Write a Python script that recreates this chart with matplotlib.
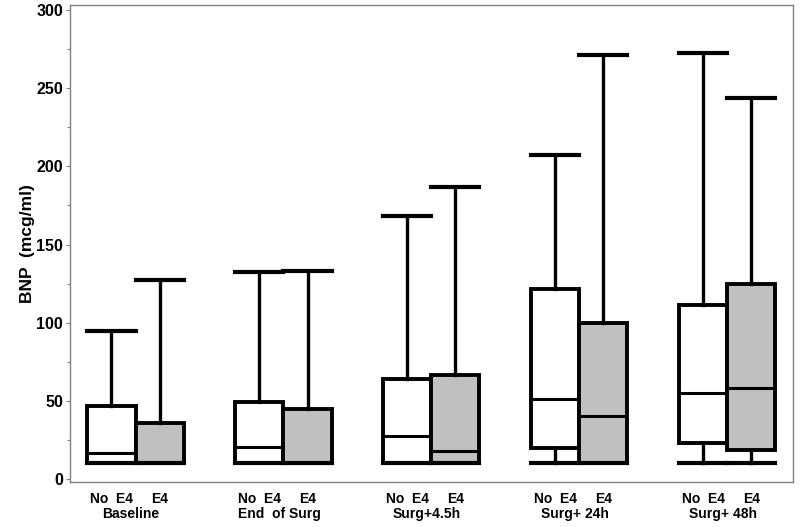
import numpy as np
import matplotlib.pyplot as plt
from matplotlib.transforms import blended_transform_factory

plt.rcParams['font.family'] = ['Liberation Sans', 'DejaVu Sans']

groups = ["Baseline", "End  of Surg", "Surg+4.5h", "Surg+ 24h", "Surg+ 48h"]
series = ["No  E4", "E4"]
colors = ["white", "#c0c0c0"]

# per group: [No E4, E4]
whislo = [[10, 10], [10, 10], [10, 10], [10, 10], [10, 10]]
q1 = [[10, 10], [10, 10], [10, 10], [20, 10], [23, 18.5]]
med = [[16.5, 10], [20.5, 10], [27.5, 18], [51.5, 40], [55, 58.5]]
q3 = [[46.5, 36], [49.5, 45], [64, 66.5], [121.5, 100], [111.5, 124.5]]
whishi = [[95, 127], [132.5, 133], [168, 186.5], [207.5, 271.5], [272.5, 244]]

fig = plt.figure(figsize=(8, 5.27), dpi=100)
ax = fig.add_axes([0.0875, 0.0854, 0.9035, 0.9051])

w = 0.325
offs = [-w / 2, w / 2]
tick_pos = []
tick_lab = []
for s in range(2):
    stats = []
    pos = []
    for g in range(len(groups)):
        stats.append(dict(whislo=whislo[g][s], q1=q1[g][s], med=med[g][s],
                          q3=q3[g][s], whishi=whishi[g][s], fliers=[]))
        pos.append(g + offs[s])
        tick_pos.append(g + offs[s])
        tick_lab.append(series[s])
    ax.bxp(stats, positions=pos, widths=w, capwidths=w, patch_artist=True,
           showfliers=False, manage_ticks=False,
           boxprops=dict(facecolor=colors[s], edgecolor='black', linewidth=2.8),
           medianprops=dict(color='black', linewidth=2.2),
           whiskerprops=dict(color='black', linewidth=2.4),
           capprops=dict(color='black', linewidth=3))

ax.set_xlim(-0.443, 4.443)
ax.set_ylim(-1.9, 303.2)
ax.set_yticks(np.arange(0, 301, 50))
ax.set_yticks(np.arange(25, 300, 50), minor=True)
ax.set_xticks(tick_pos)
ax.set_xticklabels(tick_lab)
ax.tick_params(axis='x', length=0, pad=7, labelsize=10)
ax.tick_params(axis='y', which='major', length=3, width=0.8, color='#808080', labelsize=11.5, pad=2)
ax.tick_params(axis='y', which='minor', length=2, width=0.8, color='#808080')
for lab in ax.get_xticklabels() + ax.get_yticklabels():
    lab.set_fontweight('bold')

tr = blended_transform_factory(ax.transData, ax.transAxes)
for g, name in enumerate(groups):
    ax.text(g - 0.03, -0.068, name, transform=tr, ha='center', va='center',
            fontsize=10, fontweight='bold')

for sp in ax.spines.values():
    sp.set_color('#808080')
    sp.set_linewidth(1)

ax.set_ylabel("BNP  (mcg/ml)", fontsize=12.5, fontweight='bold', labelpad=0.5)

fig.savefig("out.png", dpi=100)
